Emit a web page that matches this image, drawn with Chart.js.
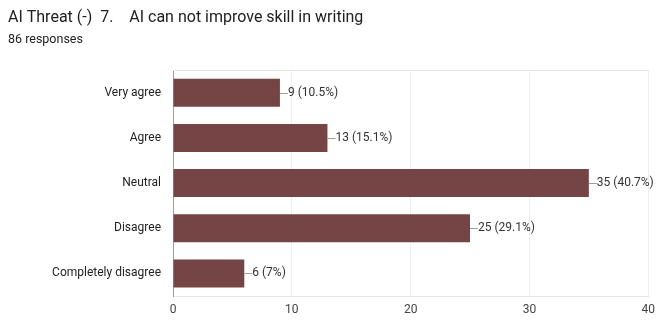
<!DOCTYPE html>
<html>
<head>
<meta charset="utf-8">
<script src="https://cdn.jsdelivr.net/npm/chart.js@4/dist/chart.umd.min.js"></script>
<style>
  html, body { margin: 0; padding: 0; background: #fff; }
  #wrap { width: 662px; height: 320px; }
</style>
</head>
<body>
<div id="wrap"><canvas id="chart"></canvas></div>
<script>
var categories = ['Very agree', 'Agree', 'Neutral', 'Disagree', 'Completely disagree'];
var counts = [9, 13, 35, 25, 6];
var percents = ['10.5%', '15.1%', '40.7%', '29.1%', '7%'];
var xTicks = [0, 10, 20, 30, 40];

// leader line + "n (p%)" next to each bar, and a thin box line on top
var barLabels = {
    id: 'barLabels',
    afterDatasetsDraw: function(chart) {
        var ctx = chart.ctx;
        var area = chart.chartArea;
        ctx.save();
        ctx.strokeStyle = '#e6e6e6';
        ctx.lineWidth = 1;
        ctx.beginPath();
        ctx.moveTo(area.left, Math.round(area.top) + 0.5);
        ctx.lineTo(area.right, Math.round(area.top) + 0.5);
        ctx.stroke();

        var meta = chart.getDatasetMeta(0);
        ctx.font = '12px Roboto';
        ctx.textAlign = 'left';
        ctx.textBaseline = 'middle';
        meta.data.forEach(function(bar, i) {
            var y = Math.round(bar.y) + 0.5;
            ctx.strokeStyle = '#9e9e9e';
            ctx.beginPath();
            ctx.moveTo(bar.x, y);
            ctx.lineTo(bar.x + 8, y);
            ctx.stroke();
            ctx.fillStyle = '#333';
            ctx.fillText(counts[i] + ' (' + percents[i] + ')', bar.x + 8, bar.y);
        });
        ctx.restore();
    }
};

new Chart(document.getElementById('chart'), {
    type: 'bar',
    data: {
        labels: categories,
        datasets: [{
            data: counts,
            backgroundColor: '#744544',
            borderWidth: 0,
            categoryPercentage: 1,
            barPercentage: 0.62
        }]
    },
    options: {
        indexAxis: 'y',
        responsive: true,
        maintainAspectRatio: false,
        animation: false,
        layout: { padding: { left: 8, right: 11, bottom: 0 } },
        plugins: {
            legend: { display: false },
            tooltip: { enabled: false },
            title: {
                display: true,
                text: 'AI Threat (-)  7.    AI can not improve skill in writing',
                align: 'start',
                color: '#212121',
                font: { family: 'Roboto', size: 16, weight: 'normal' },
                padding: { top: 8, bottom: 4 }
            },
            subtitle: {
                display: true,
                text: '86 responses',
                align: 'start',
                color: '#212121',
                font: { family: 'Roboto', size: 12.5 },
                padding: { top: 1, bottom: 23 }
            }
        },
        scales: {
            x: {
                min: 0,
                max: 40,
                afterBuildTicks: function(scale) {
                    scale.ticks = xTicks.map(function(v) { return { value: v }; });
                },
                afterFit: function(scale) { scale.height = 24; },
                grid: { color: '#eeeeee', drawTicks: false },
                border: { color: '#e6e6e6' },
                ticks: {
                    padding: 7,
                    color: '#444',
                    font: { family: 'Roboto', size: 12 }
                }
            },
            y: {
                afterFit: function(scale) { scale.width = 165; },
                grid: { display: false, drawTicks: false },
                border: { color: '#9e9e9e' },
                ticks: {
                    padding: 12,
                    color: '#222',
                    font: { family: 'Roboto', size: 12 }
                }
            }
        }
    },
    plugins: [barLabels]
});
</script>
</body>
</html>
